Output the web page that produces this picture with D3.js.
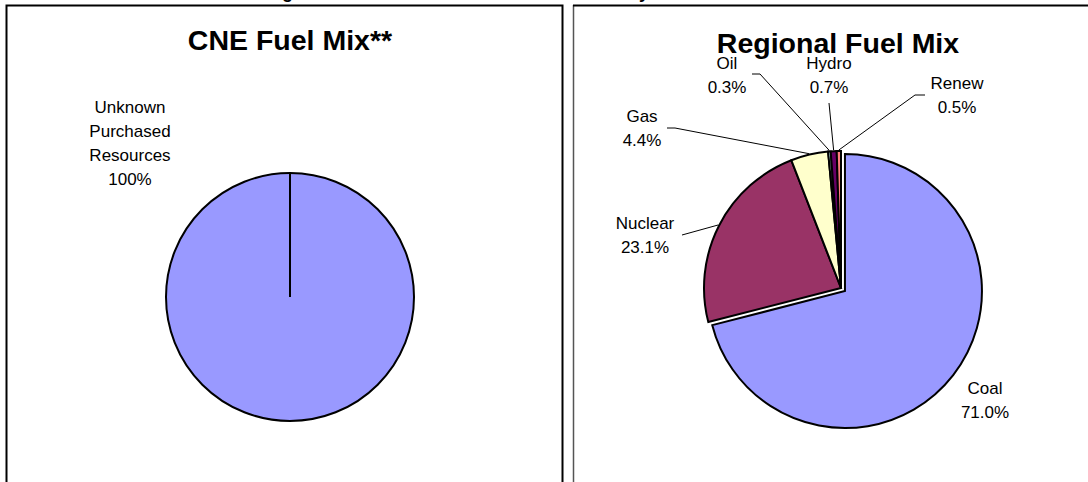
<!DOCTYPE html>
<html>
<head>
<meta charset="utf-8">
<script src="https://cdn.jsdelivr.net/npm/d3@7"></script>
<style>
body { margin: 0; background: #fff; }
text { font-family: Arial, "Liberation Sans", sans-serif; fill: #000; }
</style>
</head>
<body>
<script>
// data
var cneNames = ["Unknown Purchased Resources"];
var cneLabel = ["Unknown", "Purchased", "Resources", "100%"];
var cneValues = [100];

var regionNames = ["Coal", "Nuclear", "Gas", "Oil", "Hydro", "Renew"];
var regionValues = [71.0, 23.1, 4.4, 0.3, 0.7, 0.5];
var regionColors = ["#9999ff", "#993366", "#ffffcc", "#ccffff", "#660066", "#ff8080"];

var W = 1088, H = 482;

var svg = d3.select("body").append("svg")
    .attr("width", W)
    .attr("height", H);

// clipped page heading (only the bottom of it shows)
svg.append("text").attr("x", 556).attr("y", -2)
    .attr("text-anchor", "middle").attr("font-weight", "bold").attr("font-size", 18)
    .text("Regional Fuel Sources for the Period January 2005 to December 2005");

// panel frames
svg.append("rect").attr("x", 6.5).attr("y", 5.5).attr("width", 556).attr("height", 490)
    .attr("fill", "none").attr("stroke", "#000").attr("stroke-width", 2);
svg.append("line").attr("x1", 573.5).attr("x2", 573.5).attr("y1", 5).attr("y2", H)
    .attr("stroke", "#555").attr("stroke-width", 1.5);
svg.append("line").attr("x1", 573).attr("x2", W).attr("y1", 5.5).attr("y2", 5.5)
    .attr("stroke", "#000").attr("stroke-width", 2);

// titles
svg.append("text").attr("x", 290).attr("y", 50).attr("text-anchor", "middle")
    .attr("font-weight", "bold").attr("font-size", 28.5).text("CNE Fuel Mix**");
svg.append("text").attr("x", 838).attr("y", 53).attr("text-anchor", "middle")
    .attr("font-weight", "bold").attr("font-size", 28.5).text("Regional Fuel Mix");

var pie = d3.pie().sort(null).value(function(d){ return d; });

// left pie
var left = svg.append("g").attr("transform", "translate(290,297)");
var rL = 124;
var arcL = d3.arc().innerRadius(0).outerRadius(rL);
left.selectAll("path.slice").data(pie(cneValues)).enter().append("path")
    .attr("class", "slice")
    .attr("d", arcL)
    .attr("fill", "#9999ff").attr("stroke", "#000").attr("stroke-width", 2);
left.selectAll("line.edge").data(pie(cneValues)).enter().append("line")
    .attr("class", "edge")
    .attr("x1", 0).attr("y1", 0)
    .attr("x2", function(d){ return rL * Math.sin(d.startAngle); })
    .attr("y2", function(d){ return -rL * Math.cos(d.startAngle); })
    .attr("stroke", "#000").attr("stroke-width", 2);

svg.append("text").attr("text-anchor", "middle").attr("font-size", 17)
  .selectAll("tspan").data(cneLabel).enter().append("tspan")
    .attr("x", 130).attr("y", function(d, i){ return 113 + i * 24; })
    .text(function(d){ return d; });

// right pie
var cx = 841, cy = 288, rR = 137;
var right = svg.append("g").attr("transform", "translate(" + cx + "," + cy + ")");
var arcR = d3.arc().innerRadius(0).outerRadius(rR);
var explode = { Coal: 5 };
var slices = pie(regionValues);

right.selectAll("path.slice").data(slices).enter().append("path")
    .attr("class", "slice")
    .attr("d", arcR)
    .attr("transform", function(d, i){
      var e = explode[regionNames[i]] || 0;
      var a = (d.startAngle + d.endAngle) / 2;
      return "translate(" + (e * Math.sin(a)) + "," + (-e * Math.cos(a)) + ")";
    })
    .attr("fill", function(d, i){ return regionColors[i]; })
    .attr("stroke", "#000").attr("stroke-width", 2).attr("stroke-linejoin", "miter");

// label layout (first-line baseline) and leader-line starts
var labelPos = {
  Coal: [985, 394], Nuclear: [645, 229], Gas: [642, 122],
  Oil: [727, 69], Hydro: [829, 69], Renew: [957, 89]
};
var leaderStart = {
  Nuclear: [[682, 235]],
  Gas: [[667, 128], [675, 128]],
  Oil: [[752, 74], [760, 74]],
  Hydro: [[829, 103]],
  Renew: [[925, 95], [915, 95]]
};

slices.forEach(function(d, i){
  var name = regionNames[i];
  var p = labelPos[name];
  var t = svg.append("text").attr("text-anchor", "middle").attr("font-size", 17);
  t.append("tspan").attr("x", p[0]).attr("y", p[1]).text(name);
  t.append("tspan").attr("x", p[0]).attr("y", p[1] + 24).text(d3.format(".1f")(regionValues[i]) + "%");
  if (leaderStart[name]) {
    var a = (d.startAngle + d.endAngle) / 2;
    var pts = leaderStart[name].concat([[cx + (rR + 1) * Math.sin(a), cy - (rR + 1) * Math.cos(a)]]);
    svg.append("path").attr("d", d3.line()(pts))
      .attr("fill", "none").attr("stroke", "#000").attr("stroke-width", 1);
  }
});
</script>
</body>
</html>
